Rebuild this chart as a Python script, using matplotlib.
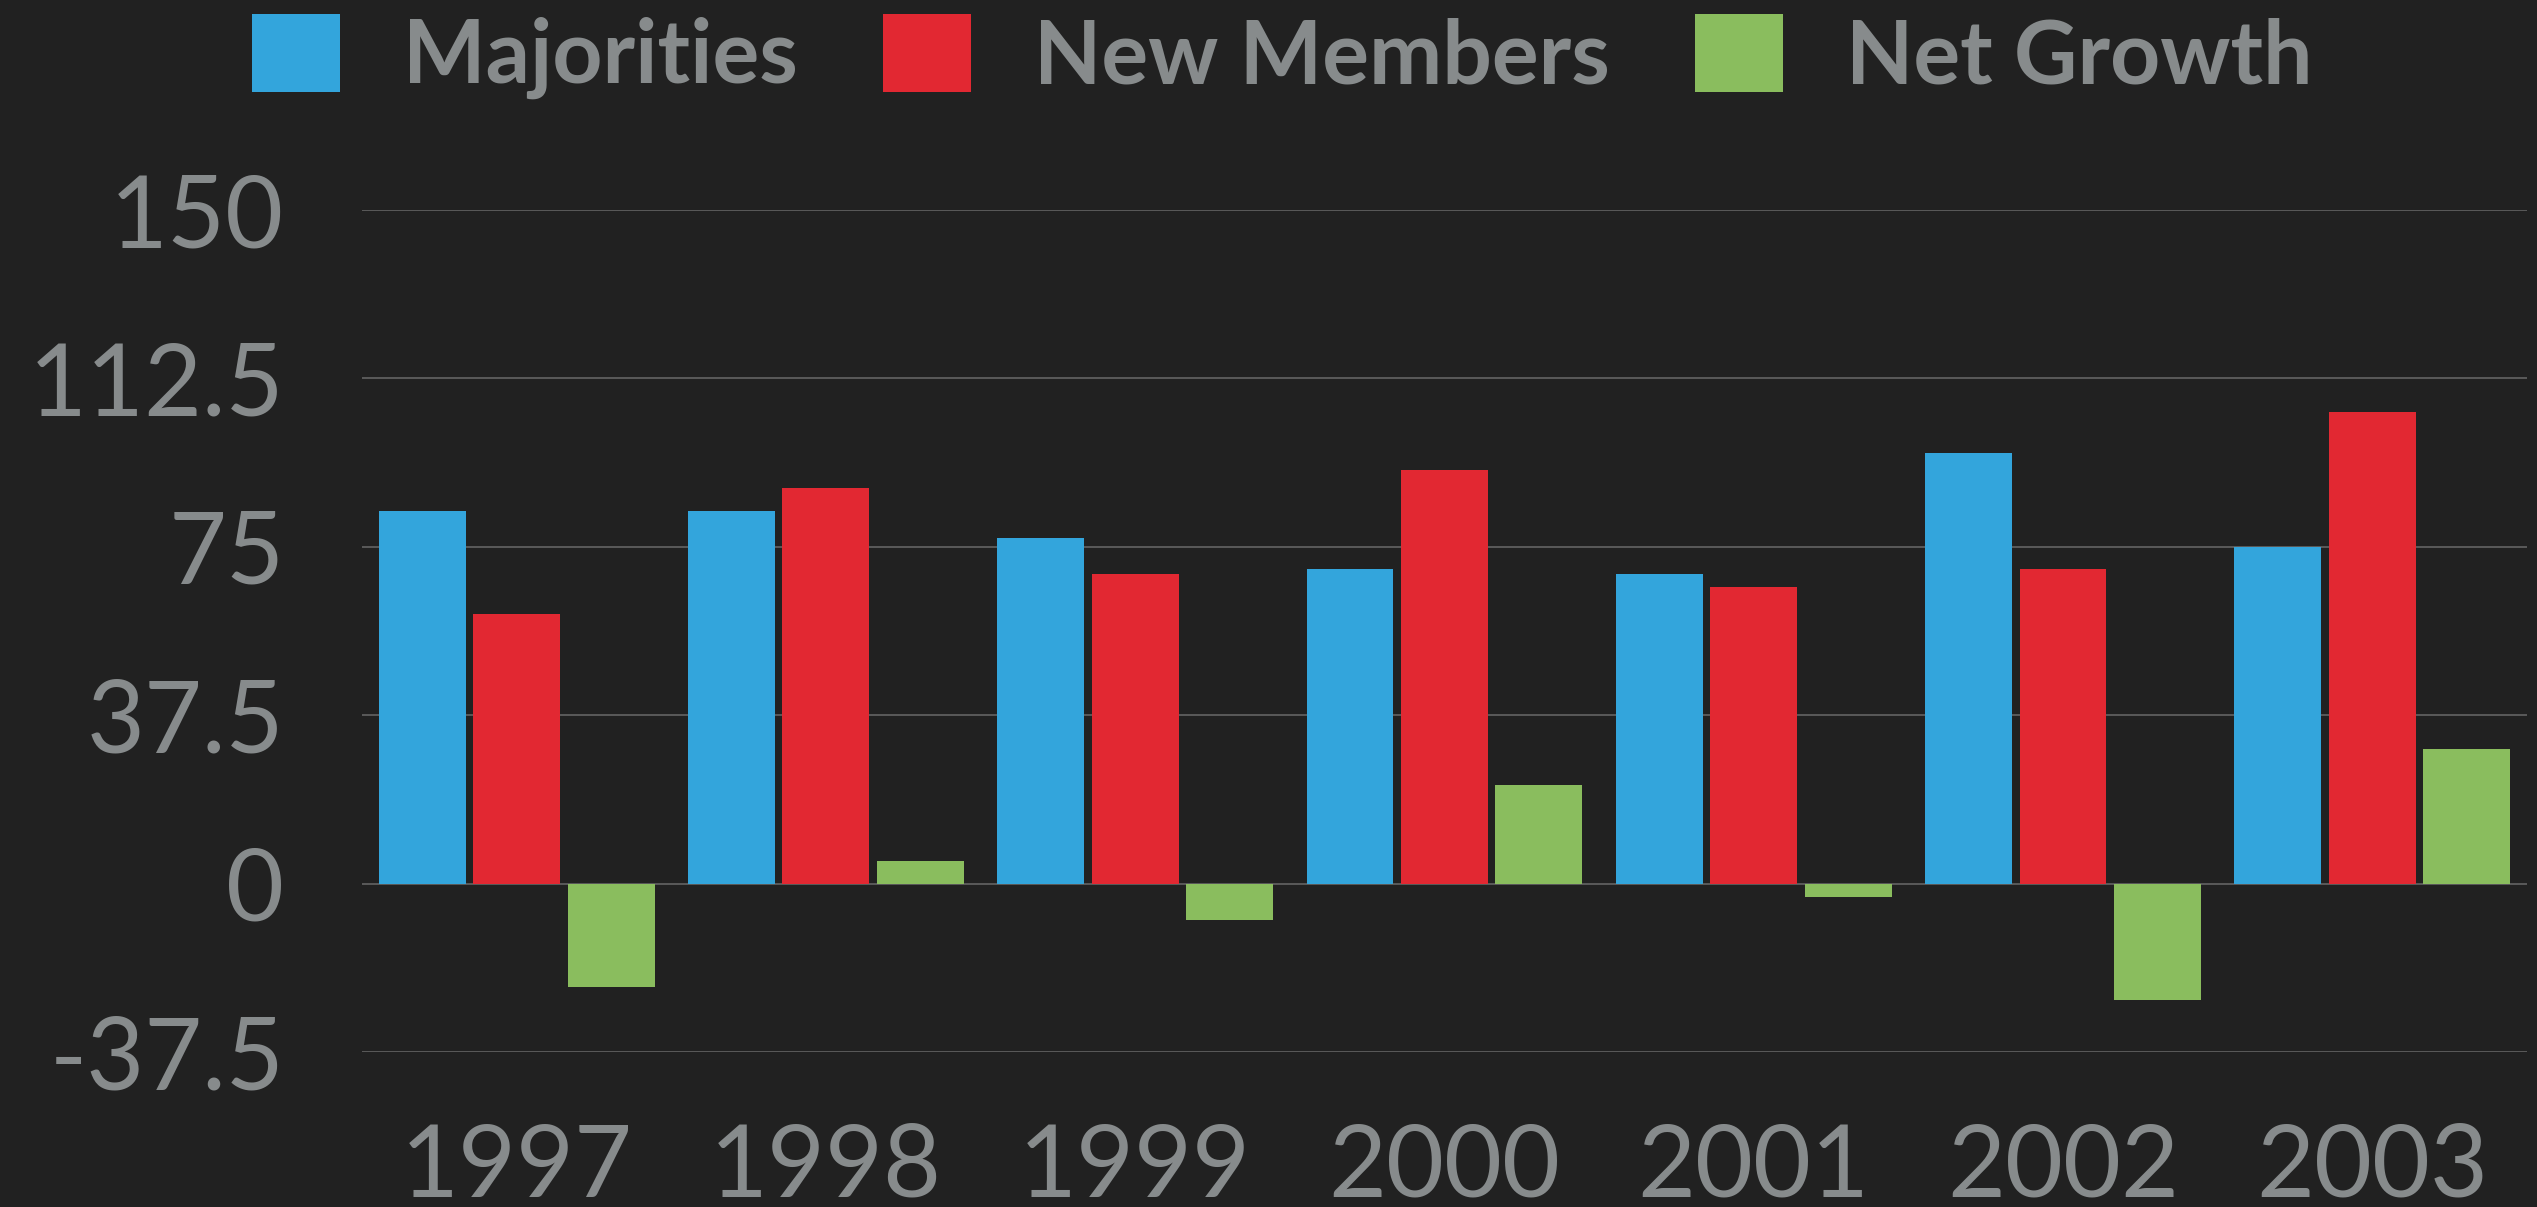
import matplotlib
matplotlib.use("Agg")
import matplotlib.pyplot as plt
import numpy as np

# data
years = ["1997", "1998", "1999", "2000", "2001", "2002", "2003"]
majorities = [83, 83, 77, 70, 69, 96, 75]
new_members = [60, 88, 69, 92, 66, 70, 105]
net_growth = [-23, 5, -8, 22, -3, -26, 30]
series_names = ["Majorities", "New Members", "Net Growth"]
yticks = [-37.5, 0, 37.5, 75, 112.5, 150]
ytick_labels = ["-37.5", "0", "37.5", "75", "112.5", "150"]

bg = "#212121"
text_col = "#878b8c"
grid_col = "#5a5a5a"
colors = ["#33a5dc", "#e22832", "#8abd5e"]

fig = plt.figure(figsize=(25.37, 12.07), dpi=100, facecolor=bg)
ax = fig.add_axes([0.1427, 0.1284, 0.8533, 0.6976])
ax.set_facecolor(bg)

x = np.arange(len(years))
width = 0.281
offsets = [-0.3055, 0.0, 0.3055]
bars = []
for vals, off, col, name in zip([majorities, new_members, net_growth], offsets, colors, series_names):
    b = ax.bar(x + off, vals, width=width, color=col, label=name, zorder=3)
    bars.append(b)

ax.set_xlim(-0.5, len(years) - 0.5)
ax.set_ylim(-37.5, 150)
ax.set_yticks(yticks)
ax.set_yticklabels(ytick_labels)
ax.set_xticks(x)
ax.set_xticklabels(years)
ax.grid(axis="y", color=grid_col, linewidth=1.4, zorder=0)
ax.set_axisbelow(True)
for s in ax.spines.values():
    s.set_visible(False)

for lab in ax.get_yticklabels() + ax.get_xticklabels():
    lab.set_fontfamily("Lato")
    lab.set_fontweight("normal")
    lab.set_fontsize(72)
    lab.set_color(text_col)
ax.tick_params(axis="y", length=0, pad=56)
ax.tick_params(axis="x", length=0, pad=51)

leg = fig.legend(handles=bars, labels=series_names, loc="center", bbox_to_anchor=(0.5055, 0.953),
                 ncol=3, frameon=False, handlelength=1.0, handleheight=1.0,
                 handletextpad=0.72, columnspacing=0.98,
                 prop=dict(family="Lato", weight="bold", size=63))
for t in leg.get_texts():
    t.set_color(text_col)

fig.savefig("out.png", dpi=100, facecolor=bg)
